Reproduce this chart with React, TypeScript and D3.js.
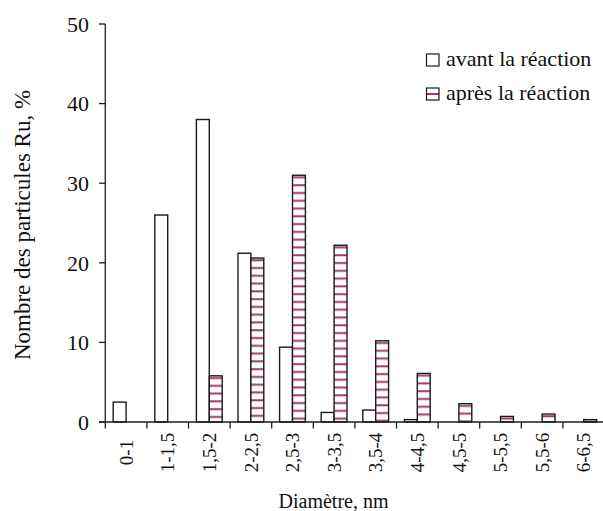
import React from "react";
import * as d3 from "d3";

const categories = ["0-1", "1-1,5", "1,5-2", "2-2,5", "2,5-3", "3-3,5", "3,5-4", "4-4,5", "4,5-5", "5-5,5", "5,5-6", "6-6,5"];
const avant = [2.5, 26, 38, 21.2, 9.4, 1.2, 1.5, 0.3, 0, 0, 0, 0];
const apres = [0, 0, 5.8, 20.6, 31, 22.2, 10.2, 6.1, 2.3, 0.7, 1.0, 0.3];
const yTicks = [0, 10, 20, 30, 40, 50];
const seriesNames = ["avant la réaction", "après la réaction"];

const W = 603;
const H = 511;
const FONT = "'Liberation Serif', 'Times New Roman', serif";
const STRIPE = "#a3386f";
const AXIS = "#1e1e1e";
const TXT = "#111";

export default function App() {
  const x0 = d3.scaleBand<string>().domain(categories).range([105.3, 604.5]).padding(0);
  const bw = x0.bandwidth();
  const groupW = 25.8;
  const x1 = d3.scaleBand<string>().domain(["avant", "apres"]).range([(bw - groupW) / 2, (bw + groupW) / 2]);
  const y = d3.scaleLinear().domain([0, 50]).range([422, 24]);

  const bars: { key: string; cat: string; v: number }[] = [];
  categories.forEach((c, i) => {
    bars.push({ key: "avant", cat: c, v: avant[i] });
    bars.push({ key: "apres", cat: c, v: apres[i] });
  });

  return (
    <svg width={W} height={H} style={{ position: "absolute", left: 0, top: 0, background: "#fff" }} fontFamily={FONT}>
      <defs>
        <pattern id="stripes" patternUnits="userSpaceOnUse" width="8" height="7.78" y="0">
          <rect x="0" y="0" width="8" height="7.78" fill="#fff" />
          <rect x="0" y="1.2" width="8" height="2" fill={STRIPE} />
        </pattern>
        <pattern id="legstripe" patternUnits="userSpaceOnUse" width="13" height="12">
          <rect x="0" y="0" width="13" height="12" fill="#fff" />
          <rect x="0" y="5" width="13" height="2" fill={STRIPE} />
        </pattern>
      </defs>
      <rect x={0} y={0} width={W} height={H} fill="#fff" />

      {bars
        .filter((b) => b.v > 0)
        .map((b, i) => {
          const bx = (x0(b.cat) as number) + (x1(b.key) as number);
          const top = y(b.v);
          const h = y(0) - top;
          return (
            <g key={i} transform={`translate(0,${top})`}>
              <rect
                x={bx}
                y={0}
                width={x1.bandwidth()}
                height={h}
                fill={b.key === "apres" ? "url(#stripes)" : "#fff"}
                stroke="#1a1a1a"
                strokeWidth={1.4}
              />
            </g>
          );
        })}

      <line x1={105.3} x2={105.3} y1={y(50)} y2={y(0)} stroke={AXIS} strokeWidth={1.3} />
      {yTicks.map((t) => (
        <g key={t}>
          <line x1={99} x2={105.3} y1={y(t)} y2={y(t)} stroke={AXIS} strokeWidth={1.3} />
          <text x={89} y={y(t)} dy="0.35em" textAnchor="end" fontSize={22} fill={TXT}>
            {t}
          </text>
        </g>
      ))}

      <line x1={99} x2={W} y1={y(0)} y2={y(0)} stroke={AXIS} strokeWidth={1.3} />
      {categories.map((c) => (
        <line
          key={"t" + c}
          x1={x0(c) as number}
          x2={x0(c) as number}
          y1={y(0)}
          y2={y(0) + 6.5}
          stroke={AXIS}
          strokeWidth={1.3}
        />
      ))}
      {categories.map((c) => {
        const cx = (x0(c) as number) + bw / 2;
        return (
          <text
            key={"l" + c}
            transform={`translate(${cx},452.5) rotate(-90)`}
            textAnchor="middle"
            dy="0.35em"
            fontSize={19}
            fill={TXT}
          >
            {c}
          </text>
        );
      })}

      <text x={333.5} y={508} textAnchor="middle" fontSize={20} fill={TXT}>
        Diamètre, nm
      </text>
      <text transform="translate(29.5,225) rotate(-90)" textAnchor="middle" fontSize={23} fill={TXT}>
        Nombre des particules Ru, %
      </text>

      <g>
        <rect x={426.5} y={54} width={12.5} height={12} fill="#fff" stroke="#1a1a1a" strokeWidth={1.2} />
        <text x={446} y={66} fontSize={22} fill={TXT}>
          {seriesNames[0]}
        </text>
        <g transform="translate(0,88)">
          <rect x={426.5} y={0} width={12.5} height={12} fill="url(#legstripe)" stroke="#1a1a1a" strokeWidth={1.2} />
        </g>
        <text x={446} y={100} fontSize={22} fill={TXT}>
          {seriesNames[1]}
        </text>
      </g>
    </svg>
  );
}
